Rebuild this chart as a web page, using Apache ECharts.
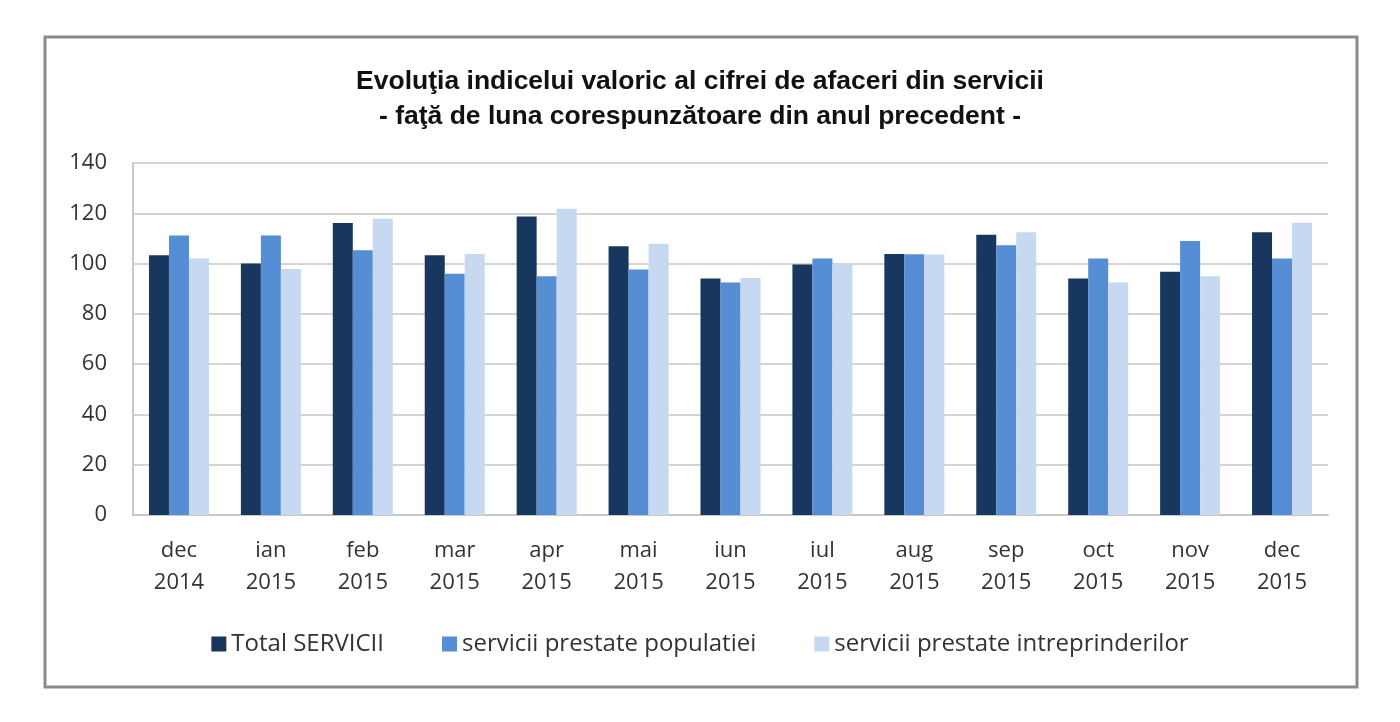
<!DOCTYPE html>
<html><head><meta charset="utf-8">
<script src="https://cdn.jsdelivr.net/npm/echarts@6/dist/echarts.min.js"></script>
<style>html,body{margin:0;padding:0;background:#fff}#c{width:1400px;height:722px}</style>
</head><body><div id="c"></div>
<script>
const categories = ['dec\n2014','ian\n2015','feb\n2015','mar\n2015','apr\n2015','mai\n2015','iun\n2015','iul\n2015','aug\n2015','sep\n2015','oct\n2015','nov\n2015','dec\n2015'];
const totalServicii = [103.3,100.0,116.1,103.3,118.7,106.9,94.1,99.6,103.8,111.5,94.1,96.7,112.5];
const serviciiPopulatiei = [111.2,111.2,105.3,96.0,95.0,97.6,92.5,102.0,103.7,107.3,102.0,109.0,102.0];
const serviciiIntreprinderilor = [102.0,97.8,117.8,103.8,121.8,107.9,94.3,99.5,103.6,112.5,92.5,95.0,116.2];
const seriesNames = ['Total SERVICII','servicii prestate populatiei','servicii prestate intreprinderilor'];
const titleLines = ['Evoluţia indicelui valoric al cifrei de afaceri din servicii','- faţă de luna corespunzătoare din anul precedent -'];

const colors = ['#17375e','#558ed5','#c6d9f1'];
const chart = echarts.init(document.getElementById('c'));
const font = '"Open Sans", Lato, sans-serif';
chart.setOption({
  animation:false,
  color: colors,
  graphic:[{type:'rect',shape:{x:45,y:37,width:1312,height:650},style:{fill:'none',stroke:'#8a8a8a',lineWidth:3}}],
  title:{
    text: titleLines.join('\n'),
    left:'center', top:59,
    textStyle:{fontFamily:'"Liberation Sans", Arial, sans-serif',fontWeight:'bold',fontSize:26.5,color:'#111',lineHeight:35}
  },
  legend:{
    top:627, left:'center', itemWidth:15, itemHeight:15, itemGap:58, icon:'rect',
    textStyle:{fontFamily:font,fontSize:24,color:'#333'},
    data: seriesNames
  },
  grid:{left:133,right:72,top:163,bottom:207},
  xAxis:{
    type:'category', data:categories,
    axisLine:{lineStyle:{color:'#c8c8c8',width:2}},
    axisTick:{show:false},
    axisLabel:{fontFamily:font,fontSize:22,color:'#333',lineHeight:32,margin:20}
  },
  yAxis:{
    type:'value', min:0, max:140, interval:20,
    axisLine:{show:true,lineStyle:{color:'#c8c8c8',width:2}},
    axisTick:{show:false},
    splitLine:{lineStyle:{color:'#d4d4d4',width:2}},
    axisLabel:{fontFamily:font,fontSize:22,color:'#333',margin:26}
  },
  series:[
    {name:seriesNames[0],type:'bar',data:totalServicii,barWidth:20,barGap:'0%'},
    {name:seriesNames[1],type:'bar',data:serviciiPopulatiei,barWidth:20,barGap:'0%'},
    {name:seriesNames[2],type:'bar',data:serviciiIntreprinderilor,barWidth:20,barGap:'0%'}
  ]
});
</script></body></html>
